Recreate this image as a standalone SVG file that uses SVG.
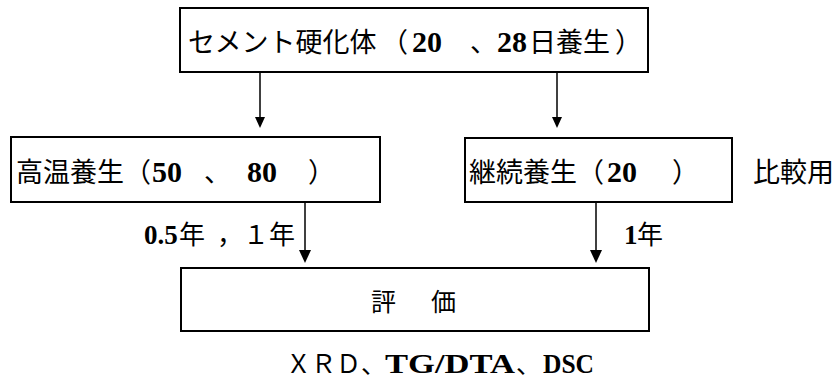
<svg xmlns="http://www.w3.org/2000/svg" width="837" height="380" viewBox="0 0 837 380">
<style>
.box{fill:#fff;stroke:#000;stroke-width:2}
.ln{stroke:#000;stroke-width:1.5;fill:none}
.hd{fill:#000}
.j{font-family:"Noto Sans CJK JP","Noto Sans",sans-serif;font-size:27px;fill:#000}
.js{font-family:"Noto Sans CJK JP","Noto Sans",sans-serif;font-size:25px;fill:#000}
.jl{font-family:"Noto Sans CJK JP","Noto Sans",sans-serif;font-size:26px;fill:#000}
.s{font-family:"Liberation Serif","Times New Roman",serif;font-weight:bold;font-size:30px;fill:#000}
.ss{font-family:"Liberation Serif","Times New Roman",serif;font-weight:bold;font-size:27px;fill:#000}
</style>
<rect width="837" height="380" fill="#fff"/>
<g id="connectors">
<line class="ln" x1="260" y1="72" x2="260" y2="118"/>
<polygon class="hd" points="255,117 265,117 260,128"/>
<line class="ln" x1="557" y1="72" x2="557" y2="118"/>
<polygon class="hd" points="552,117 562,117 557,128"/>
<line class="ln" x1="305" y1="202" x2="305" y2="252"/>
<polygon class="hd" points="299,250 311,250 305,263"/>
<line class="ln" x1="596" y1="202" x2="596" y2="252"/>
<polygon class="hd" points="590,250 602,250 596,263"/>
<text class="ss" x="144" y="244">0.5</text>
<text class="jl" x="179" y="244">年</text>
<text class="jl" x="217" y="244">，</text>
<text class="jl" x="243" y="244">１</text>
<text class="jl" x="269" y="244">年</text>
<text class="ss" x="624" y="244">1</text>
<text class="jl" x="637" y="244">年</text>
</g>
<g id="node-cement">
<rect class="box" x="180" y="8" width="468" height="64"/>
<text y="52"><tspan class="j" x="188">セメント硬化体</tspan><tspan class="j" x="381">（</tspan><tspan class="s" x="412">20</tspan><tspan class="j" x="470">、</tspan><tspan class="s" x="497">28</tspan><tspan class="j" x="529">日養生</tspan><tspan class="j" x="615">）</tspan></text>
</g>
<g id="node-high">
<rect class="box" x="11" y="137" width="369" height="65"/>
<text y="182"><tspan class="j" x="16">高温養生（</tspan><tspan class="s" x="152">50</tspan><tspan class="j" x="204">、</tspan><tspan class="s" x="247">80</tspan><tspan class="j" x="308">）</tspan></text>
</g>
<g id="node-cont">
<rect class="box" x="465" y="138" width="267" height="64"/>
<text y="182"><tspan class="j" x="469">継続養生（</tspan><tspan class="s" x="607">20</tspan><tspan class="j" x="672">）</tspan></text>
<text class="j" x="753" y="182">比較用</text>
</g>
<g id="node-eval">
<rect class="box" x="181" y="268" width="468" height="63"/>
<text class="js" x="371" y="311">評</text>
<text class="js" x="431" y="311">価</text>
<text y="373"><tspan class="js" x="286">ＸＲＤ、</tspan><tspan class="ss" x="385" textLength="130" lengthAdjust="spacingAndGlyphs">TG/DTA</tspan><tspan class="js" x="516">、</tspan><tspan class="ss" x="543" textLength="51" lengthAdjust="spacingAndGlyphs">DSC</tspan></text>
</g>
</svg>
